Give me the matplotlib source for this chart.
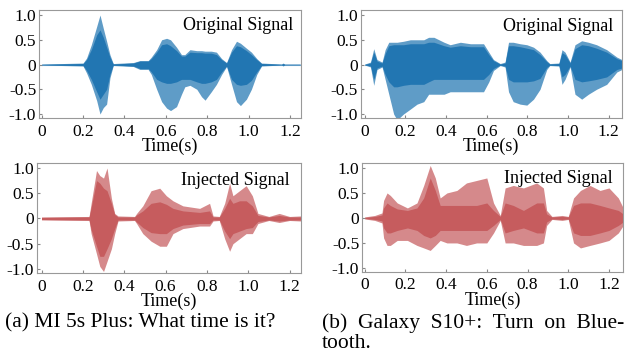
import matplotlib
matplotlib.use('Agg')
import matplotlib.pyplot as plt

plt.rcParams['font.family'] = ['Liberation Serif', 'DejaVu Serif']
plt.rcParams['font.size'] = 13

BLUE = '#2276b2'
RED = '#c65c5e'

# envelopes (time in s, amplitude)
a_t = [0, 0.2, 0.217, 0.24, 0.266, 0.282, 0.298, 0.314, 0.33, 0.346, 0.443, 0.475, 0.515, 0.53, 0.556, 0.58, 0.604, 0.623, 0.652, 0.676,
       0.692, 0.717, 0.75, 0.773, 0.79, 0.82, 0.845, 0.87, 0.894, 0.918, 0.942, 0.961, 0.99, 1.014, 1.04, 1.063, 1.16, 1.167, 1.175, 1.25]
a_hi = [0.01, 0.03, 0.13, 0.4, 0.77, 1.0, 0.73, 0.47, 0.2, 0.02, 0.04, 0.08, 0.08, 0.15, 0.3, 0.5, 0.53, 0.5, 0.35, 0.2,
        0.2, 0.3, 0.28, 0.28, 0.27, 0.27, 0.25, 0.12, 0.04, 0.3, 0.47, 0.43, 0.33, 0.25, 0.12, 0.03, 0.01, 0.03, 0.01, 0.01]
a_lo = [-0.01, -0.03, -0.17, -0.4, -0.73, -1.0, -0.87, -0.8, -0.27, -0.02, -0.04, -0.1, -0.1, -0.2, -0.5, -0.75, -0.88, -0.93, -0.85, -0.6,
        -0.45, -0.42, -0.5, -0.65, -0.72, -0.55, -0.4, -0.2, -0.04, -0.4, -0.75, -0.83, -0.7, -0.5, -0.2, -0.03, -0.01, -0.03, -0.01, -0.01]
a_in_hi = [0.005, 0.02, 0.1, 0.3, 0.6, 0.7, 0.55, 0.35, 0.15, 0.01, 0.03, 0.07, 0.07, 0.12, 0.25, 0.4, 0.42, 0.38, 0.28, 0.17,
           0.17, 0.25, 0.24, 0.24, 0.23, 0.23, 0.2, 0.1, 0.03, 0.25, 0.38, 0.36, 0.28, 0.2, 0.1, 0.02, 0.005, 0.02, 0.005, 0.005]
a_in_lo = [-0.005, -0.02, -0.12, -0.3, -0.55, -0.7, -0.6, -0.5, -0.2, -0.01, -0.03, -0.08, -0.08, -0.15, -0.3, -0.35, -0.38, -0.38, -0.35, -0.3,
           -0.3, -0.3, -0.35, -0.38, -0.38, -0.35, -0.3, -0.15, -0.03, -0.3, -0.4, -0.42, -0.4, -0.32, -0.15, -0.02, -0.005, -0.02, -0.005, -0.005]

b_t = [0, 0.028, 0.044, 0.06, 0.085, 0.1, 0.118, 0.142, 0.159, 0.19, 0.224, 0.257, 0.29, 0.314, 0.34, 0.39, 0.42, 0.47, 0.52, 0.584,
       0.61, 0.633, 0.666, 0.69, 0.707, 0.73, 0.764, 0.797, 0.83, 0.862, 0.895, 0.91, 0.955, 0.97, 0.985, 1.01, 1.034, 1.067, 1.1, 1.14,
       1.19, 1.24, 1.265]
b_hi = [0.01, 0.05, 0.32, 0.1, 0.05, 0.3, 0.45, 0.45, 0.45, 0.47, 0.5, 0.5, 0.5, 0.55, 0.55, 0.45, 0.4, 0.45, 0.42, 0.42,
        0.25, 0.1, 0.02, 0.05, 0.45, 0.45, 0.42, 0.4, 0.35, 0.25, 0.08, 0.02, 0.03, 0.3, 0.25, 0.05, 0.4, 0.48, 0.45, 0.4,
        0.3, 0.15, 0.1]
b_lo = [-0.01, -0.05, -0.42, -0.1, -0.05, -0.3, -0.6, -1.0, -1.12, -1.0, -0.9, -0.8, -0.75, -0.6, -0.6, -0.6, -0.55, -0.55, -0.55, -0.55,
        -0.35, -0.12, -0.02, -0.05, -0.55, -0.75, -0.8, -0.82, -0.7, -0.5, -0.1, -0.02, -0.03, -0.4, -0.3, -0.05, -0.6, -0.7, -0.6, -0.5,
        -0.4, -0.15, -0.1]
b_in_hi = [0.005, 0.03, 0.25, 0.07, 0.03, 0.22, 0.38, 0.4, 0.4, 0.4, 0.42, 0.42, 0.42, 0.45, 0.45, 0.38, 0.35, 0.38, 0.36, 0.36,
           0.2, 0.08, 0.01, 0.03, 0.38, 0.38, 0.36, 0.33, 0.3, 0.2, 0.06, 0.01, 0.02, 0.24, 0.2, 0.03, 0.32, 0.4, 0.38, 0.33,
           0.25, 0.12, 0.08]
b_in_lo = [-0.005, -0.03, -0.3, -0.07, -0.03, -0.2, -0.35, -0.45, -0.45, -0.42, -0.4, -0.4, -0.4, -0.35, -0.3, -0.3, -0.3, -0.3, -0.3, -0.3,
           -0.2, -0.08, -0.01, -0.03, -0.3, -0.35, -0.35, -0.35, -0.33, -0.28, -0.06, -0.01, -0.02, -0.25, -0.2, -0.03, -0.3, -0.35, -0.33, -0.3,
           -0.25, -0.1, -0.07]

c_t = [0, 0.23, 0.24, 0.266, 0.282, 0.3, 0.317, 0.338, 0.354, 0.37, 0.45, 0.46, 0.49, 0.53, 0.572, 0.604, 0.636, 0.684, 0.765, 0.813,
       0.83, 0.86, 0.886, 0.91, 0.926, 0.958, 0.99, 1.02, 1.047, 1.1, 1.15, 1.2, 1.253]
c_hi = [0.03, 0.04, 0.3, 0.95, 0.85, 0.8, 1.0, 0.4, 0.1, 0.05, 0.04, 0.1, 0.25, 0.55, 0.6, 0.45, 0.35, 0.25, 0.2, 0.3,
        0.05, 0.04, 0.3, 0.7, 0.45, 0.55, 0.65, 0.45, 0.1, 0.04, 0.1, 0.04, 0.05]
c_lo = [-0.03, -0.04, -0.3, -0.7, -0.95, -1.05, -0.85, -0.6, -0.3, -0.05, -0.04, -0.1, -0.3, -0.45, -0.55, -0.55, -0.3, -0.2, -0.15, -0.15,
        -0.05, -0.04, -0.4, -0.65, -0.5, -0.4, -0.3, -0.3, -0.1, -0.04, -0.08, -0.04, -0.05]
c_in_hi = [0.02, 0.03, 0.22, 0.75, 0.7, 0.6, 0.55, 0.3, 0.08, 0.03, 0.03, 0.07, 0.15, 0.3, 0.33, 0.28, 0.2, 0.15, 0.12, 0.15,
           0.03, 0.03, 0.2, 0.4, 0.3, 0.35, 0.35, 0.25, 0.06, 0.03, 0.06, 0.03, 0.03]
c_in_lo = [-0.02, -0.03, -0.22, -0.55, -0.75, -0.75, -0.6, -0.4, -0.2, -0.03, -0.03, -0.07, -0.18, -0.28, -0.3, -0.3, -0.2, -0.13, -0.1, -0.1,
           -0.03, -0.03, -0.25, -0.4, -0.3, -0.25, -0.2, -0.18, -0.06, -0.03, -0.05, -0.03, -0.03]

d_t = [0, 0.05, 0.085, 0.093, 0.11, 0.126, 0.16, 0.21, 0.257, 0.29, 0.322, 0.347, 0.371, 0.404, 0.453, 0.5, 0.55, 0.6, 0.633, 0.666,
       0.69, 0.73, 0.78, 0.845, 0.878, 0.894, 0.92, 0.97, 1.0, 1.026, 1.06, 1.107, 1.156, 1.2, 1.246, 1.27]
d_hi = [0.02, 0.05, 0.1, 0.35, 0.5, 0.45, 0.3, 0.2, 0.3, 0.65, 1.05, 0.8, 0.4, 0.5, 0.55, 0.7, 0.75, 0.8, 0.3, 0.05,
        0.6, 0.65, 0.6, 0.7, 0.6, 0.15, 0.03, 0.05, 0.03, 0.4, 0.55, 0.65, 0.55, 0.6, 0.4, 0.2]
d_lo = [-0.02, -0.05, -0.1, -0.4, -0.55, -0.55, -0.45, -0.45, -0.55, -0.6, -0.65, -0.55, -0.45, -0.5, -0.5, -0.55, -0.5, -0.5, -0.3, -0.05,
        -0.5, -0.5, -0.55, -0.55, -0.5, -0.15, -0.03, -0.05, -0.03, -0.5, -0.6, -0.55, -0.5, -0.45, -0.3, -0.15]
d_in_hi = [0.01, 0.03, 0.06, 0.2, 0.3, 0.25, 0.18, 0.15, 0.2, 0.4, 0.8, 0.55, 0.25, 0.25, 0.25, 0.25, 0.25, 0.3, 0.15, 0.03,
           0.3, 0.25, 0.15, 0.3, 0.3, 0.08, 0.02, 0.03, 0.02, 0.25, 0.3, 0.3, 0.25, 0.2, 0.15, 0.08]
d_in_lo = [-0.01, -0.03, -0.06, -0.2, -0.3, -0.3, -0.25, -0.2, -0.25, -0.35, -0.4, -0.35, -0.25, -0.25, -0.25, -0.25, -0.25, -0.25, -0.15, -0.03,
           -0.3, -0.25, -0.2, -0.3, -0.3, -0.08, -0.02, -0.03, -0.02, -0.3, -0.35, -0.35, -0.3, -0.25, -0.15, -0.08]

xticks = [0, 0.2, 0.4, 0.6, 0.8, 1.0, 1.2]
xtick_labels = ['0', '0.2', '0.4', '0.6', '0.8', '1.0', '1.2']
yticks = [1.0, 0.5, 0, -0.5, -1.0]
ytick_labels = ['1.0', '0.5', '0', '-0.5', '-1.0']

fig = plt.figure(figsize=(6.34, 3.55), dpi=100)

panels = [
    ([0.0615, 0.6676, 0.413, 0.304], a_t, a_hi, a_lo, a_in_hi, a_in_lo, BLUE, 'Original Signal', (-0.013, 1.253), (0.97, 0.86)),
    ([0.569, 0.6676, 0.412, 0.304], b_t, b_hi, b_lo, b_in_hi, b_in_lo, BLUE, 'Original Signal', (-0.02, 1.265), (0.966, 0.845)),
    ([0.058, 0.231, 0.416, 0.310], c_t, c_hi, c_lo, c_in_hi, c_in_lo, RED, 'Injected Signal', (-0.023, 1.253), (0.958, 0.84)),
    ([0.571, 0.234, 0.412, 0.307], d_t, d_hi, d_lo, d_in_hi, d_in_lo, RED, 'Injected Signal', (-0.013, 1.27), (0.958, 0.86)),
]

for rect, t, hi, lo, in_hi, in_lo, col, label, xlim, tpos in panels:
    ax = fig.add_axes(rect)
    ax.fill_between(t, lo, hi, color=col, alpha=0.72, linewidth=0)
    ax.fill_between(t, in_lo, in_hi, color=col, linewidth=0)
    ax.plot(t, [0] * len(t), color=col, alpha=0.4, linewidth=0.8)
    ax.set_xlim(*xlim)
    ax.set_ylim(-1.08, 1.1)
    ax.set_xticks(xticks)
    ax.set_xticklabels(xtick_labels)
    ax.set_yticks(yticks)
    ax.set_yticklabels(ytick_labels)
    ax.tick_params(labelsize=12.5, direction='in', length=2, color='#888888')
    ax.tick_params(axis='x', pad=4)
    ax.tick_params(axis='y', pad=2)
    for s in ax.spines.values():
        s.set_color('#999999')
        s.set_linewidth(0.8)
    ax.set_xlabel('Time(s)', labelpad=-1)
    ax.text(tpos[0], tpos[1], label, transform=ax.transAxes, ha='right', va='center')

fig.text(5 / 634, 1 - 323 / 355, '(a) MI 5s Plus: What time is it?', ha='left', va='center', fontsize=15.5)
fig.text(322 / 634, 1 - 323 / 355, '(b)  Galaxy  S10+:  Turn  on  Blue-', ha='left', va='center', fontsize=15.5)
fig.text(322 / 634, 1 - 344 / 355, 'tooth.', ha='left', va='center', fontsize=15.5)

fig.savefig('out.png', dpi=100)
